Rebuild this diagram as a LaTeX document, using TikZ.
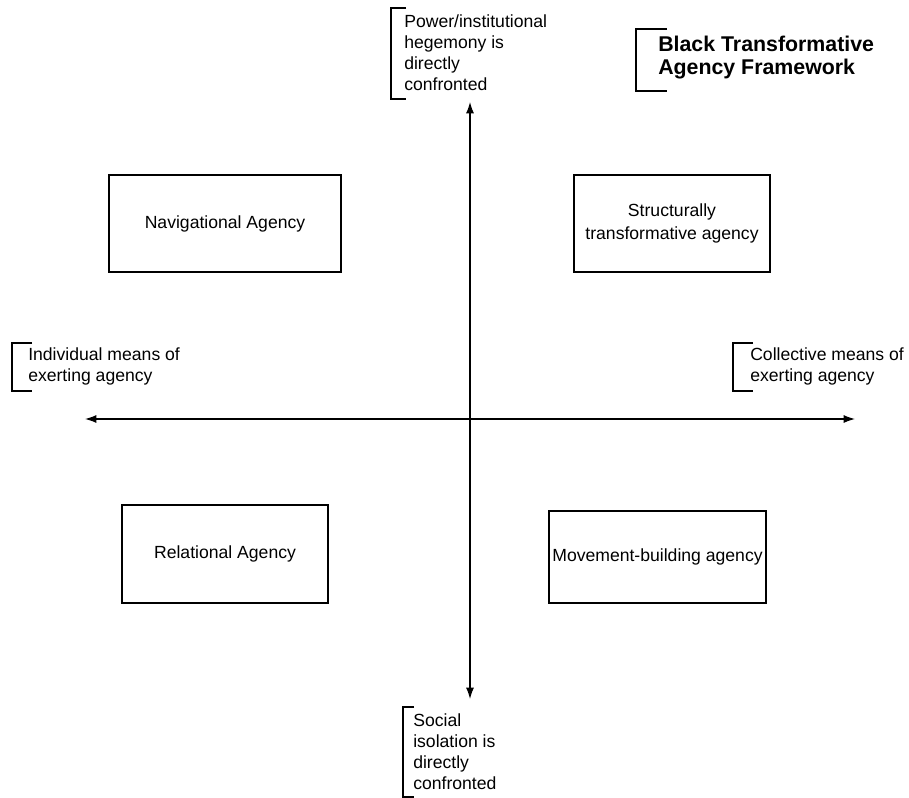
\documentclass[tikz,border=0pt]{standalone}
\usepackage{fontspec}
\setmainfont{Liberation Sans}
\usetikzlibrary{arrows.meta}
\begin{document}
\begin{tikzpicture}[x=0.75pt,y=-0.75pt,
  box/.style={draw=black,line width=0.8pt,inner sep=2pt,align=center,
    font=\fontsize{13.2}{17}\selectfont},
  lbl/.style={anchor=west,inner sep=0pt,align=left,
    font=\fontsize{13.2}{15.75}\selectfont},
  ttl/.style={anchor=west,inner sep=0pt,align=left,
    font=\fontsize{16}{17.25}\selectfont\bfseries},
  brk/.style={draw=black,line width=0.8pt},
  axis/.style={draw=black,line width=0.9pt,{Latex[length=8.5pt,width=6pt]}-{Latex[length=8.5pt,width=6pt]}}]
\useasboundingbox (0,0) rectangle (909,798);
\fill[white] (0,0) rectangle (909,798);

% axes
\coordinate (top) at (470,102);
\coordinate (bot) at (470,699);
\coordinate (lft) at (85,419);
\coordinate (rgt) at (855,419);
\draw[axis] (bot) -- (top);
\draw[axis] (lft) -- (rgt);

% quadrant boxes
\node[box,minimum width=174pt,minimum height=72.75pt] (nav) at (225,223.5) {Navigational Agency};
\node[box,minimum width=147pt,minimum height=72.75pt] (str) at (672,223.5) {Structurally\\transformative agency};
\node[box,minimum width=154.5pt,minimum height=73.5pt] (rel) at (225,554) {Relational Agency};
\node[box,minimum width=162.75pt,minimum height=69pt] (mov) at (657.5,557) {Movement-building agency};

% bracket labels
\node[lbl] (pow) at (404,53) {Power/institutional\\hegemony is\\directly\\confronted};
\draw[brk] (406,8) -- (391,8) -- (391,99) -- (406,99);

\node[ttl] (title) at (658,58) {Black Transformative\\Agency Framework};
\draw[brk] (667,29) -- (636,29) -- (636,91) -- (667,91);

\node[lbl] (ind) at (28,366.5) {Individual means of\\exerting agency};
\draw[brk] (32,343) -- (12,343) -- (12,391) -- (32,391);

\node[lbl] (col) at (750,366.5) {Collective means of\\exerting agency};
\draw[brk] (753,343) -- (733,343) -- (733,391) -- (753,391);

\node[lbl] (soc) at (413,752) {Social\\isolation is\\directly\\confronted};
\draw[brk] (414,707) -- (403,707) -- (403,797) -- (414,797);
\end{tikzpicture}
\end{document}
